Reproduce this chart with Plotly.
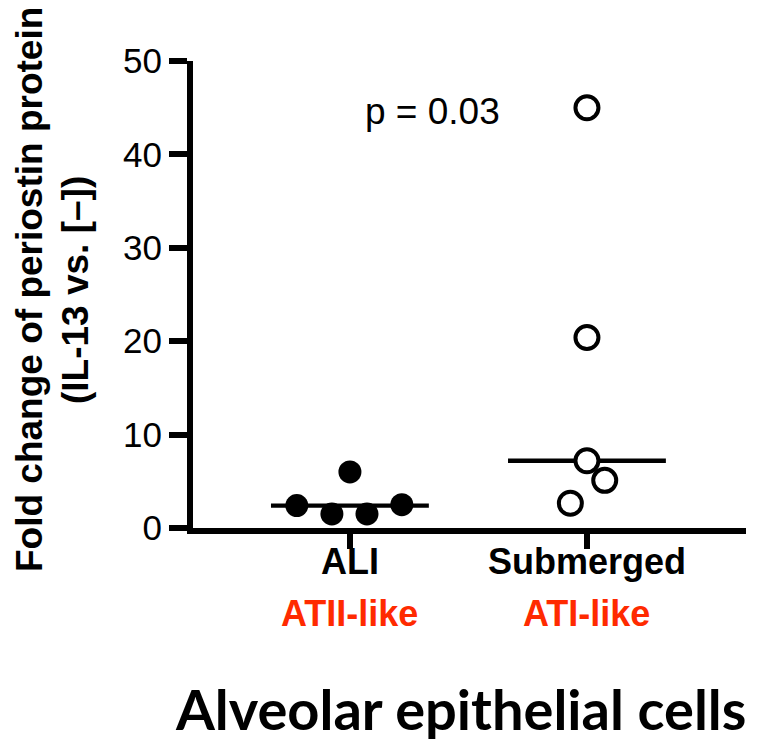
import numpy as np
import plotly.graph_objects as go

# ---- data ----
categories = ["ALI", "Submerged"]
sublabels = ["ATII-like", "ATI-like"]
ali_values = [2.4, 1.5, 1.5, 2.5, 6.0]
ali_jitter = [-0.224, -0.076, 0.072, 0.219, 0.0]
sub_values = [45.0, 20.4, 7.2, 5.1, 2.65]
sub_jitter = [0.0, 0.0, 0.0, 0.075, -0.07]
y_ticks = [0, 10, 20, 30, 40, 50]
p_text = "p = 0.03"
y_title_1 = "Fold change of periostin protein"
y_title_2 = "(IL-13 vs. [\u2013])"
x_title = "Alveolar epithelial cells"

FONT = "Liberation Sans, Arial, sans-serif"
RED = "#ff2a00"

L, R, T, B = 185, 28, 53, 223
W, H = 766, 743
PW, PH = W - L - R, H - T - B


def px(x):
    return (x - L) / PW


def py(y):
    return (H - B - y) / PH


fig = go.Figure()

ali_x = [0 + j for j in ali_jitter]
sub_x = [1 + j for j in sub_jitter]

half = 0.333
for i, vals in enumerate([ali_values, sub_values]):
    m = float(np.median(vals))
    fig.add_trace(go.Scatter(x=[i - half, i + half], y=[m, m], mode="lines",
                             line=dict(color="black", width=4.3),
                             showlegend=False, hoverinfo="skip"))

fig.add_trace(go.Scatter(x=ali_x, y=ali_values, mode="markers",
                         marker=dict(size=23, color="black", line=dict(width=0)),
                         showlegend=False, cliponaxis=False))
fig.add_trace(go.Scatter(x=sub_x, y=sub_values, mode="markers",
                         marker=dict(size=23, color="white", line=dict(width=4, color="black")),
                         showlegend=False, cliponaxis=False))

fig.update_layout(
    width=W, height=H,
    margin=dict(l=L, r=R, t=T, b=B),
    paper_bgcolor="white", plot_bgcolor="white",
    font=dict(family=FONT, color="black"),
    xaxis=dict(range=[-0.662, 1.671], tickmode="array", tickvals=[0, 1],
               ticktext=[f"<b>{c}</b>" for c in categories],
               showgrid=False, zeroline=False, showline=True, linecolor="black",
               linewidth=6, ticks="outside", ticklen=15, tickwidth=6, tickcolor="black",
               ticklabelstandoff=-18,
               tickfont=dict(size=36, family=FONT, color="black")),
    yaxis=dict(range=[0, 50], tickmode="array", tickvals=y_ticks,
               ticktext=[str(t) for t in y_ticks],
               showgrid=False, zeroline=False, showline=True, linecolor="black",
               linewidth=6, ticks="outside", ticklen=18, tickwidth=6, tickcolor="black",
               tickfont=dict(size=35, family=FONT, color="black")),
)

for i, s in enumerate(sublabels):
    fig.add_annotation(x=i, y=py(605), xref="x", yref="paper", text=f"<b>{s}</b>",
                       showarrow=False, xanchor="center", yanchor="middle",
                       font=dict(size=36, family=FONT, color=RED))

fig.add_annotation(x=0.35, y=44.6, xref="x", yref="y", text=p_text, showarrow=False,
                   xanchor="center", yanchor="middle",
                   font=dict(size=37, family=FONT, color="black"))

fig.add_annotation(x=px(21), y=py(282), xref="paper", yref="paper",
                   text=f"<b>{y_title_1}</b>", textangle=-90, showarrow=False,
                   xanchor="center", yanchor="middle",
                   font=dict(size=37, family=FONT, color="black"))
fig.add_annotation(x=px(67), y=py(282), xref="paper", yref="paper",
                   text=f"<b>{y_title_2}</b>", textangle=-90, showarrow=False,
                   xanchor="center", yanchor="middle",
                   font=dict(size=37, family=FONT, color="black"))

fig.add_annotation(x=px(452), y=py(700), xref="paper", yref="paper",
                   text=f"<b>{x_title}</b>", showarrow=False,
                   xanchor="center", yanchor="middle",
                   font=dict(size=56, family="Lato, sans-serif", color="black"))

fig.write_html("out.html")
